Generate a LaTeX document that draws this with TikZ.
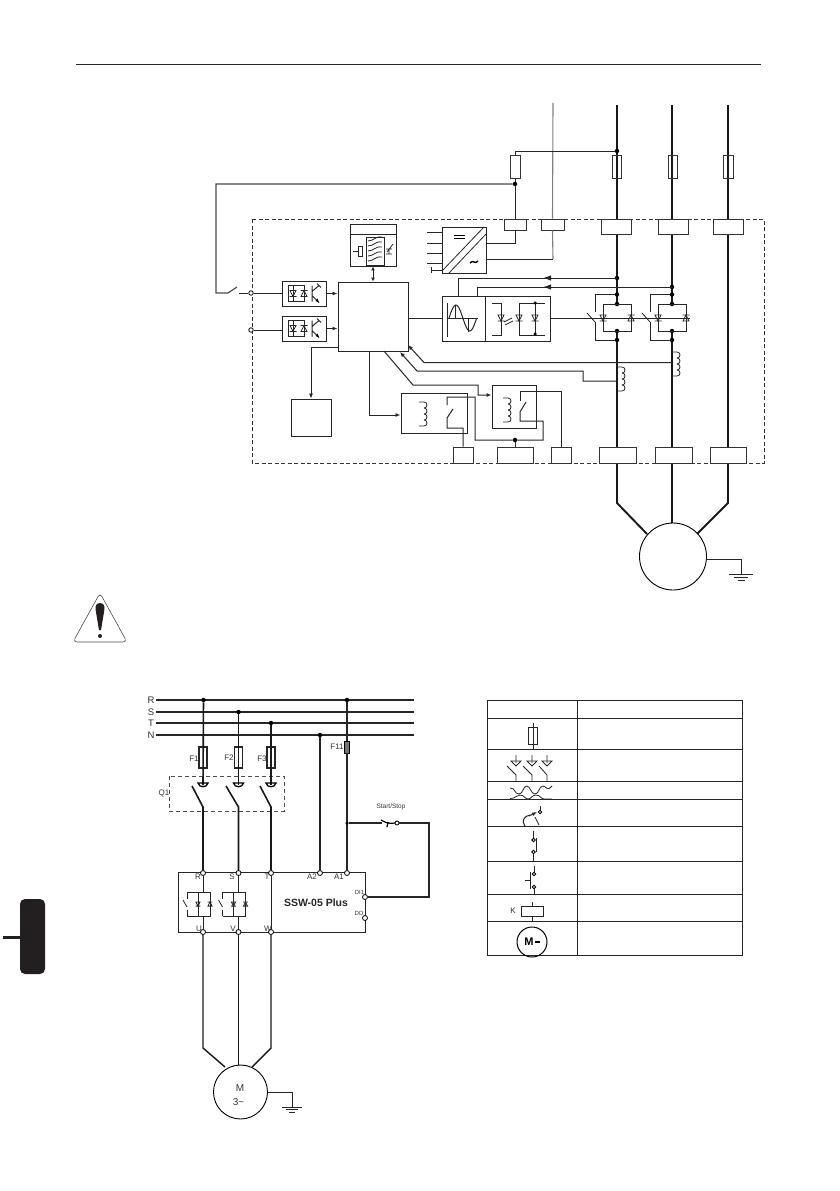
\documentclass[tikz,border=0pt]{standalone}
\usepackage{fontspec}
\setmainfont{Liberation Sans}
\usetikzlibrary{arrows.meta,calc}

\definecolor{tabblack}{HTML}{231F20}
\tikzset{
  wire/.style={line width=1pt, black!85},
  fine/.style={line width=.8pt, black!85},
  phase/.style={line width=1.9pt, black!90},
  block/.style={draw, line width=.95pt, black!85, inner sep=0pt},
  term/.style={draw, line width=.8pt, black!80, inner sep=0pt, fill=white},
  ring/.style={circle, draw, fill=white, line width=.8pt, inner sep=0pt, minimum size=5pt},
  dot/.style={circle, fill=black, inner sep=0pt, minimum size=4.5pt},
  lbl/.style={inner sep=0pt, black!80, font=\fontsize{8}{9}\selectfont},
  head/.style={-{Latex[length=5pt,width=4pt]}},
  heads/.style={{Latex[length=4pt,width=4pt]}-{Latex[length=4pt,width=4pt]}},
  bighead/.style={-{Latex[length=8pt,width=5.5pt]}},
  thydown/.pic={\draw[fine] (-3.5,3)--(3.5,3) (-3,-3)--(3,-3)--(0,3)--cycle;},
  thyup/.pic={\draw[fine] (-3.5,-3)--(3.5,-3) (-3,3)--(3,3)--(0,-3)--cycle;},
  bumps/.pic={\draw[fine] (0,0) -- (5,0)
    \foreach \i in {0,...,3} { (5,6*\i) .. controls (9,6*\i) and (9,6*\i+6) .. (5,6*\i+6) }
    (5,24) -- (0,24);},
  groundmark/.pic={\draw[wire] (-12,0)--(12,0) (-7,3.5)--(7,3.5) (-3.5,6.5)--(3.5,6.5);},
  breaker/.pic={\draw[line width=1.3pt] (-5,-1) .. controls (-4,4) and (4,4) .. (5,-1) -- cycle;}
}

\begin{document}
\begin{tikzpicture}[x=1pt,y=-1pt]
  \useasboundingbox (0,0) rectangle (839,1191);

  \coordinate (ruleL) at (76,64);
  \coordinate (ruleR) at (761,64);
  \draw[wire] (ruleL) -- (ruleR);

  % upper diagram
  \draw[fine, dashed, dash pattern=on 4pt off 2.5pt, black!80] (252,219) rectangle (764,463);

  \coordinate (auxT) at (553,103);
  \coordinate (auxB) at (553,259);
  \foreach \x/\n in {617/a,672/b,728/c} {
    \coordinate (top\n) at (\x,105);
    \coordinate (bot\n) at (\x,447);
  }
  \draw[phase] (topa) -- (617,304) (617,331) -- (617,503) -- (647,534);
  \draw[phase] (topb) -- (672,304) (672,331) -- (672,523);
  \draw[phase] (topc) -- (728,503) -- (697,534);

  \node[term, fill=none, minimum width=9pt, minimum height=23pt] (fa) at (617,166.5) {};
  \node[term, fill=none, minimum width=9pt, minimum height=23pt] (fb) at (672.5,166.5) {};
  \node[term, fill=none, minimum width=10pt, minimum height=23pt] (fc) at (728,166.5) {};
  \node[term, fill=none, minimum width=10pt, minimum height=23pt] (faux) at (515,166.5) {};

  \node[term, minimum width=22pt, minimum height=11pt] (x1) at (515,224.5) {};
  \node[term, minimum width=23pt, minimum height=11pt] (x2) at (552.5,224.5) {};
  \node[term, minimum width=30pt, minimum height=15pt] (r1) at (616,226.5) {};
  \node[term, minimum width=30pt, minimum height=15pt] (s1) at (673,226.5) {};
  \node[term, minimum width=30pt, minimum height=15pt] (t1) at (728,226.5) {};
  \node[term, minimum width=37pt, minimum height=16pt] (u1) at (617.5,455) {};
  \node[term, minimum width=37pt, minimum height=16pt] (v1) at (673.5,455) {};
  \node[term, minimum width=36pt, minimum height=16pt] (w1) at (728,455) {};
  \node[term, minimum width=20pt, minimum height=16pt] (k1) at (463,455) {};
  \node[term, minimum width=36pt, minimum height=16pt] (k2) at (515,455) {};
  \node[term, minimum width=20pt, minimum height=16pt] (k3) at (561,455) {};

  \draw[line width=1.1pt, black!50] (auxT) -- (x2.north) (x2.south) -- (auxB);

  \node[dot] (pa0) at (617,151) {};
  \node[dot] (pb1) at (515,184) {};
  \draw[wire] (pa0) -- (515,151) -- (faux.north) (faux.south) -- (pb1) -- (x1.north);

  \node[block, minimum width=70pt, minimum height=69pt] (ctrl) at (373,316.5) {};
  \node[block, minimum width=44pt, minimum height=25pt] (opto1) at (304,293.5) {};
  \node[block, minimum width=44pt, minimum height=25pt] (opto2) at (304,328.5) {};
  \node[block, minimum width=46pt, minimum height=42pt] (hmi) at (373,245) {};
  \node[block, minimum width=44pt, minimum height=46pt] (psu) at (464,250) {};
  \node[block, minimum width=43pt, minimum height=45pt] (gate) at (463.5,318.5) {};
  \node[block, minimum width=65pt, minimum height=45pt] (drv) at (517.5,318.5) {};
  \node[block, minimum width=40pt, minimum height=37pt] (mem) at (311,417.5) {};
  \node[block, minimum width=66pt, minimum height=40pt] (rel1) at (434,413) {};
  \node[block, minimum width=44pt, minimum height=43pt] (rel2) at (514,406.5) {};

  % digital inputs
  \node[ring, minimum size=4.5pt] (di1) at (251,293) {};
  \node[ring, minimum size=4.5pt] (di2) at (251,330) {};
  \coordinate (swA) at (228,293);
  \coordinate (swB) at (239,293);
  \draw[line width=1.2pt, black!70] (pb1) -- (216,184) -- (216,293) -- (swA) -- (237,287);
  \draw[wire] (swB) -- (di1);
  \draw[wire] (di1) -- (opto1.west |- di1);
  \draw[wire] (di2) -- (opto2.west |- di2);
  \draw[wire, head] (opto1.east) -- (ctrl.west |- opto1.east);
  \draw[wire, head] (opto2.east) -- (ctrl.west |- opto2.east);
  \foreach \n in {opto1,opto2} {
    \begin{scope}[shift={(\n.center)}]
      \draw[fine] (-16,-8) -- (-16,8) (-16,-8) -- (0,-8) -- (0,8) -- (-16,8) (-11,-8) -- (-11,8);
      \pic at (-11,0) {thydown};
      \pic at (0,0) {thyup};
      \draw[wire] (8,-8) -- (8,8) (8,-2) -- (15,-8) (8,2) -- (15,9);
      \draw[fine] (13,-10) -- (17,-6);
      \fill (15,9) -- (11.5,7.5) -- (13.5,5) -- cycle;
    \end{scope}
  }

  % operator panel
  \draw[wire] (hmi.west |- 350,234) -- (hmi.east |- 396,234);
  \draw[wire] (366,237) rectangle (384,265);
  \foreach \i in {0,...,4} {
    \draw[fine] (368,{241+\i*5}) .. controls (374,{241+\i*5}) and (375,{236+\i*5}) .. (382,{237+\i*5});
  }
  \draw[fine] (353,251) -- (358,251) (358,246) rectangle (362,256);
  \draw[fine] (387,252) -- (393,244) (386,249) -- (392,249) (386,254) -- (392,254) (389,249) -- (389,254);
  \draw[wire, heads] (hmi.south) -- (ctrl.north);

  % supply
  \foreach \y in {232,243,253,263} {
    \draw[fine] (427,\y) -- (psu.west |- 442,\y);
  }
  \draw[fine] (431,267) -- (431,273) (431,270) -- (psu.west |- 442,270);
  \draw[fine] (442,271) -- (484,227) (449,273) -- (486,234);
  \draw[line width=1pt] (454,235) -- (465,235) (454,238.5) -- (465,238.5);
  \draw[line width=1.4pt] (470,263) .. controls (473,259) and (475,265) .. (478,261);
  \draw[wire] (psu.east |- 486,243) -- (515,243) -- (x1.south);
  \draw[wire] (psu.east |- 486,259) -- (auxB);

  % thyristor feedback
  \node[dot] (pa1) at (617,278) {};
  \node[dot] (pb2) at (672,287) {};
  \draw[wire] (pa1) -- (458,278) -- (458,296);
  \draw[wire] (pb2) -- (477,287) -- (477,296);
  \draw[wire, bighead] (617,278) -- (543,278);
  \draw[wire, bighead] (672,287) -- (543,287);

  \draw[wire] (ctrl.east |- 408,318) -- (gate.west |- 442,318);

  \draw[fine] (447,303) -- (447,337) (447,318) -- (478,318) (455,305) -- (455,318) (468,318) -- (468,332);
  \draw[wire] plot[smooth, domain=0:360, samples=37] ({449+\x/13},{318-13*sin(\x)});

  \draw[fine] (492,303) -- (501,303) -- (501,335) -- (492,335);
  \pic at (501,318) {thydown};
  \draw[fine] (504,322) -- (512,318) (505,325) -- (513,321);
  \draw[fine] (545,303) -- (519,303) -- (519,335) -- (545,335) (535,303) -- (535,335);
  \pic at (519,318) {thydown};
  \pic at (535,318) {thydown};
  \node[dot, minimum size=3.5pt] (dg1) at (535,303) {};
  \node[dot, minimum size=3.5pt] (dg2) at (535,334) {};

  \draw[wire] (drv.east |- 550,318) -- (690,318);

  \foreach \x/\n/\l in {617/a/595,672/b/650} {
    \node[dot] (up\n) at (\x,294.5) {};
    \node[dot] (ta\n) at (\x,304) {};
    \node[dot] (tb\n) at (\x,331) {};
    \node[dot] (dn\n) at (\x,340) {};
    \draw[wire] (\x-14,304) rectangle (\x+14,331);
    \draw[wire] (up\n) -- (\l,294.5) -- (\l,312);
    \draw[wire] (\l,322) -- (\l,340) -- (dn\n);
    \draw[fine] (\l-8,313) -- (\l,322);
    \pic at (\x-14,318) {thydown};
    \pic at (\x+14,318) {thyup};
  }

  % current sensing
  \pic at (672,352) {bumps};
  \pic at (617,367) {bumps};
  \draw[wire, head] (672,362.5) -- (424,362.5) -- (408,345);
  \draw[wire, head] (617,381) -- (583,381) -- (583,371) -- (417,371) -- (400,352);

  % outputs
  \draw[fine, head] (ctrl.west |- 338,347) -- (311,347) -- (mem.north);
  \draw[wire, head] (369,351) -- (369,415) -- (rel1.west |- 401,415);
  \draw[wire, head] (384,351) -- (413,385) -- (478,385) -- (478,395) -- (rel2.west |- 492,395);

  \pic at (419,402) {bumps};
  \pic at (503,398) {bumps};
  \node[dot, minimum size=4.5pt] (kc) at (515,440) {};
  \draw[wire] (kc) -- (k2.north);
  \draw[wire] (447,405) -- (447,397) -- (475,397) -- (475,440) -- (kc) -- (543,440) -- (543,421) -- (520,421) -- (520,412) -- (526,402);
  \draw[wire] (453,409) -- (447,418) -- (447,428) -- (463,428) -- (k1.north);
  \draw[wire] (520,401) -- (520,391) -- (561,391) -- (k3.north);

  % motor
  \node[circle, draw, line width=.9pt, fill=white, inner sep=0pt, minimum size=67pt] (mot) at (673,556.5) {};
  \coordinate (gnd1) at (741,574);
  \coordinate (gndj) at (706,559);
  \draw[wire] (gndj) -- (gnd1 |- gndj) -- (gnd1);
  \pic at (gnd1) {groundmark};

  % warning
  \draw[line width=.6pt, black!70, rounded corners=4pt] (100,593) -- (127,642) -- (73,642) -- cycle;
  \fill[tabblack] (100,603) .. controls (95,603) and (95,608) .. (96,612) -- (99,630) -- (101,630) -- (104,612) .. controls (105,608) and (105,603) .. (100,603) -- cycle;
  \fill[tabblack] (100,636) circle (2pt);

  % side tab
  \fill[tabblack, rounded corners=5pt] (20,899) rectangle (45,974);
  \fill[tabblack] (3,935.5) rectangle (20,939);

  % lower diagram
  \foreach \n/\y in {R/700,S/712,T/723,N/735} {
    \node[lbl, font=\fontsize{9.5}{10}\selectfont] (lab\n) at (151,\y) {\n};
    \draw[wire, line width=1.3pt] (156,\y) coordinate (bus\n) -- (414,\y);
  }
  \node[dot] (tapR) at (203.5,700) {};
  \node[dot] (tapS) at (238.5,712) {};
  \node[dot] (tapT) at (271,723) {};
  \node[dot] (tapN) at (320,735) {};
  \node[dot] (tapA) at (347,700) {};

  \node[block, minimum width=187pt, minimum height=60pt] (ssw) at (271.5,902) {};
  \node[ring] (inR) at (203,873) {};
  \node[ring] (inS) at (238.5,873) {};
  \node[ring] (inT) at (271,873) {};
  \node[ring] (inA2) at (320,873) {};
  \node[ring] (inA1) at (347,873) {};
  \node[ring] (outU) at (203,932) {};
  \node[ring] (outV) at (238.5,932) {};
  \node[ring] (outW) at (271,932) {};
  \node[ring] (di) at (365,897) {};
  \node[ring] (dd) at (365,918) {};
  \draw[fine] (inT) -- (outW);

  \node[block, line width=1.3pt, minimum width=8pt, minimum height=21pt] (f1) at (203,757.5) {};
  \node[block, line width=1.3pt, minimum width=8pt, minimum height=21pt] (f2) at (238.5,757.5) {};
  \node[block, line width=1.3pt, minimum width=8pt, minimum height=21pt] (f3) at (271,757.5) {};
  \node[draw, fill=black!55, line width=.6pt, inner sep=0pt, minimum width=4.5pt, minimum height=12pt] (f11) at (347,747) {};

  \node[lbl] (lf1) at (194,759) {F1};
  \node[lbl] (lf2) at (229,758) {F2};
  \node[lbl] (lf3) at (262,759) {F3};
  \node[lbl] (lf11) at (337,747) {F11};
  \node[lbl] (lq1) at (164,793) {Q1};

  \draw[fine, dashed, dash pattern=on 4pt off 3pt, black!70] (169,776) rectangle (284,811);

  \draw[phase, line width=1.6pt] (tapR) -- (203,785);
  \draw[phase, line width=1.6pt] (tapS) -- (238.5,785);
  \draw[phase, line width=1.6pt] (tapT) -- (271,785);
  \foreach \x/\l/\n in {203/192/inR,238.5/226/inS,271/260/inT} {
    \pic at (\x,784) {breaker};
    \draw[phase, line width=1.6pt] (\l,786) -- (\x,807) -- (\n);
  }
  \draw[wire, line width=1.2pt] (tapN) -- (inA2);
  \coordinate (startJ) at (347,823);
  \draw[wire, line width=1.2pt] (tapA) -- (f11) -- (inA1);
  \node[dot, minimum size=3.5pt] (junc) at (startJ) {};

  \node[ring, minimum size=4pt] (swc) at (397,823) {};
  \draw[wire, line width=1.2pt] (junc) -- (382,823);
  \draw[wire, line width=1.2pt] (swc) -- (429,823) -- (429,897) -- (di);
  \draw[line width=1.2pt] (381,820) .. controls (385,822) and (387,824) .. (395,823) (388,822) -- (387,827);
  \node[lbl, font=\fontsize{6.5}{7}\selectfont] (lstart) at (391,807) {Start/Stop};

  \foreach \x/\t/\u/\i in {198/R/U/a,232/S/V/b,267/T/W/c} {
    \node[lbl] (lt\i) at (\x,876.5) {\t};
    \node[lbl] (lu\i) at (\x+1,928.5) {\u};
  }
  \node[lbl] (la2) at (312,876.5) {A2};
  \node[lbl] (la1) at (339,876.5) {A1};
  \node[lbl, font=\fontsize{6}{7}\selectfont] (ldi) at (359.5,892) {DI1};
  \node[lbl, font=\fontsize{6}{7}\selectfont] (ldd) at (359,913) {DD};
  \node[lbl, black!85, font=\bfseries\fontsize{10.5}{12}\selectfont] (lssw) at (316,903) {SSW-05 Plus};

  \foreach \x/\n/\a/\b in {203/a/inR/outU,238.5/b/inS/outV} {
    \draw[fine] (\a) -- (\x,892) (\x,916) -- (\b);
    \draw[fine] (\x-16,892) -- (\x+7,892) -- (\x+7,916) -- (\x-16,916) (\x-16,892) -- (\x-16,899) (\x-16,910) -- (\x-16,916);
    \draw[fine] (\x-20,900) -- (\x-16,907);
    \draw[fine] (\x-5,892) -- (\x-5,916);
    \pic[scale=.7] at (\x-5,904) {thydown};
    \pic[scale=.7] at (\x+7,904) {thyup};
  }

  \coordinate (bendU) at (203,1048);
  \coordinate (bendW) at (271,1048);
  \node[circle, draw, line width=.9pt, inner sep=0pt, minimum size=54pt] (m3) at (240.5,1092) {};
  \draw[phase, line width=1.4pt] (outU) -- (bendU) -- (225,1067);
  \draw[phase, line width=1.4pt] (outV) -- (238.5,1065);
  \draw[phase, line width=1.4pt] (outW) -- (bendW) -- (252,1067);
  \node[lbl, font=\fontsize{10}{11}\selectfont] (lm) at (240,1088) {M};
  \node[lbl, font=\fontsize{10}{11}\selectfont] (l3) at (238.5,1102) {3\textasciitilde};
  \coordinate (gnd2) at (292,1107);
  \draw[wire] (m3.east) -- (gnd2 |- m3.east) -- (gnd2);
  \pic[scale=.85] at (gnd2) {groundmark};

  % legend table
  \draw[wire, line width=1pt] (487,700) rectangle (742,955) (577,700) -- (577,955);
  \foreach \y in {718,749,781,799,826,861,894,921} {
    \draw[wire, line width=1pt] (487,\y) -- (742,\y);
  }
  \coordinate (sym1a) at (533,723);
  \coordinate (sym1b) at (533,749);
  \draw[fine] (sym1a) -- (sym1b);
  \node[block, line width=.8pt, minimum width=9pt, minimum height=17pt] (symfuse) at (533,735.5) {};

  \foreach \x/\l in {516/507,532/523,547/539} {
    \draw[fine] (\x,755) -- (\x,763) (\l,766) -- (\x,775) -- (\x,781);
    \draw[fine] (\x-5,761) -- (\x+5,761) -- (\x,766) -- cycle;
  }

  \draw[fine] (510,788) .. controls (516,788) and (514,794) .. (519,794)
    .. controls (523,794) and (523,786) .. (527,786)
    .. controls (530,786) and (531,794) .. (535,794)
    .. controls (539,794) and (539,786) .. (543,786)
    .. controls (546,786) and (547,792) .. (552,786);
  \draw[fine] (510,798.5) .. controls (516,798.5) and (516,795) .. (520,795)
    .. controls (524,795) and (525,799) .. (528,799)
    .. controls (531,799) and (532,795) .. (536,795)
    .. controls (540,795) and (541,799) .. (544,799) -- (552,799);

  \draw[fine] (540,806) -- (540,810);
  \node[ring, minimum size=3.5pt] (symc) at (540,812) {};
  \draw[wire, head] (529,816) -- (537,812);
  \draw[wire] (530,815) .. controls (524,816) and (521,821) .. (525,826);
  \draw[fine] (535,817) -- (539,825);

  \draw[wire] (533.5,831) -- (533.5,838);
  \node[ring, minimum size=3.5pt] (symn1) at (533.5,840) {};
  \node[ring, minimum size=3.5pt] (symn2) at (533.5,852) {};
  \draw[wire] (536,838) -- (536,852);
  \draw[wire] (symn2) -- (533.5,861);

  \draw[wire] (534,866) -- (534,872);
  \node[ring, minimum size=3.5pt] (symo1) at (534,874) {};
  \node[ring, minimum size=3.5pt] (symo2) at (534,887) {};
  \draw[wire] (530.5,872) -- (530.5,889) (525,880) -- (530.5,880);
  \draw[wire] (symo2) -- (534,895);

  \node[block, line width=1pt, minimum width=22pt, minimum height=10pt] (symk) at (532,911.5) {};
  \draw[fine] (532,902) -- (symk.north) (symk.south) -- (532,921);
  \node[lbl] (lk) at (513,911) {K};

  \node[circle, draw, line width=1pt, inner sep=0pt, minimum size=30pt] (symm) at (532,942) {};
  \node[lbl, black, font=\bfseries\fontsize{11}{12}\selectfont] (lsymm) at (529,942) {M};
  \draw[line width=1.3pt] (535,942) -- (540,942);
\end{tikzpicture}
\end{document}
